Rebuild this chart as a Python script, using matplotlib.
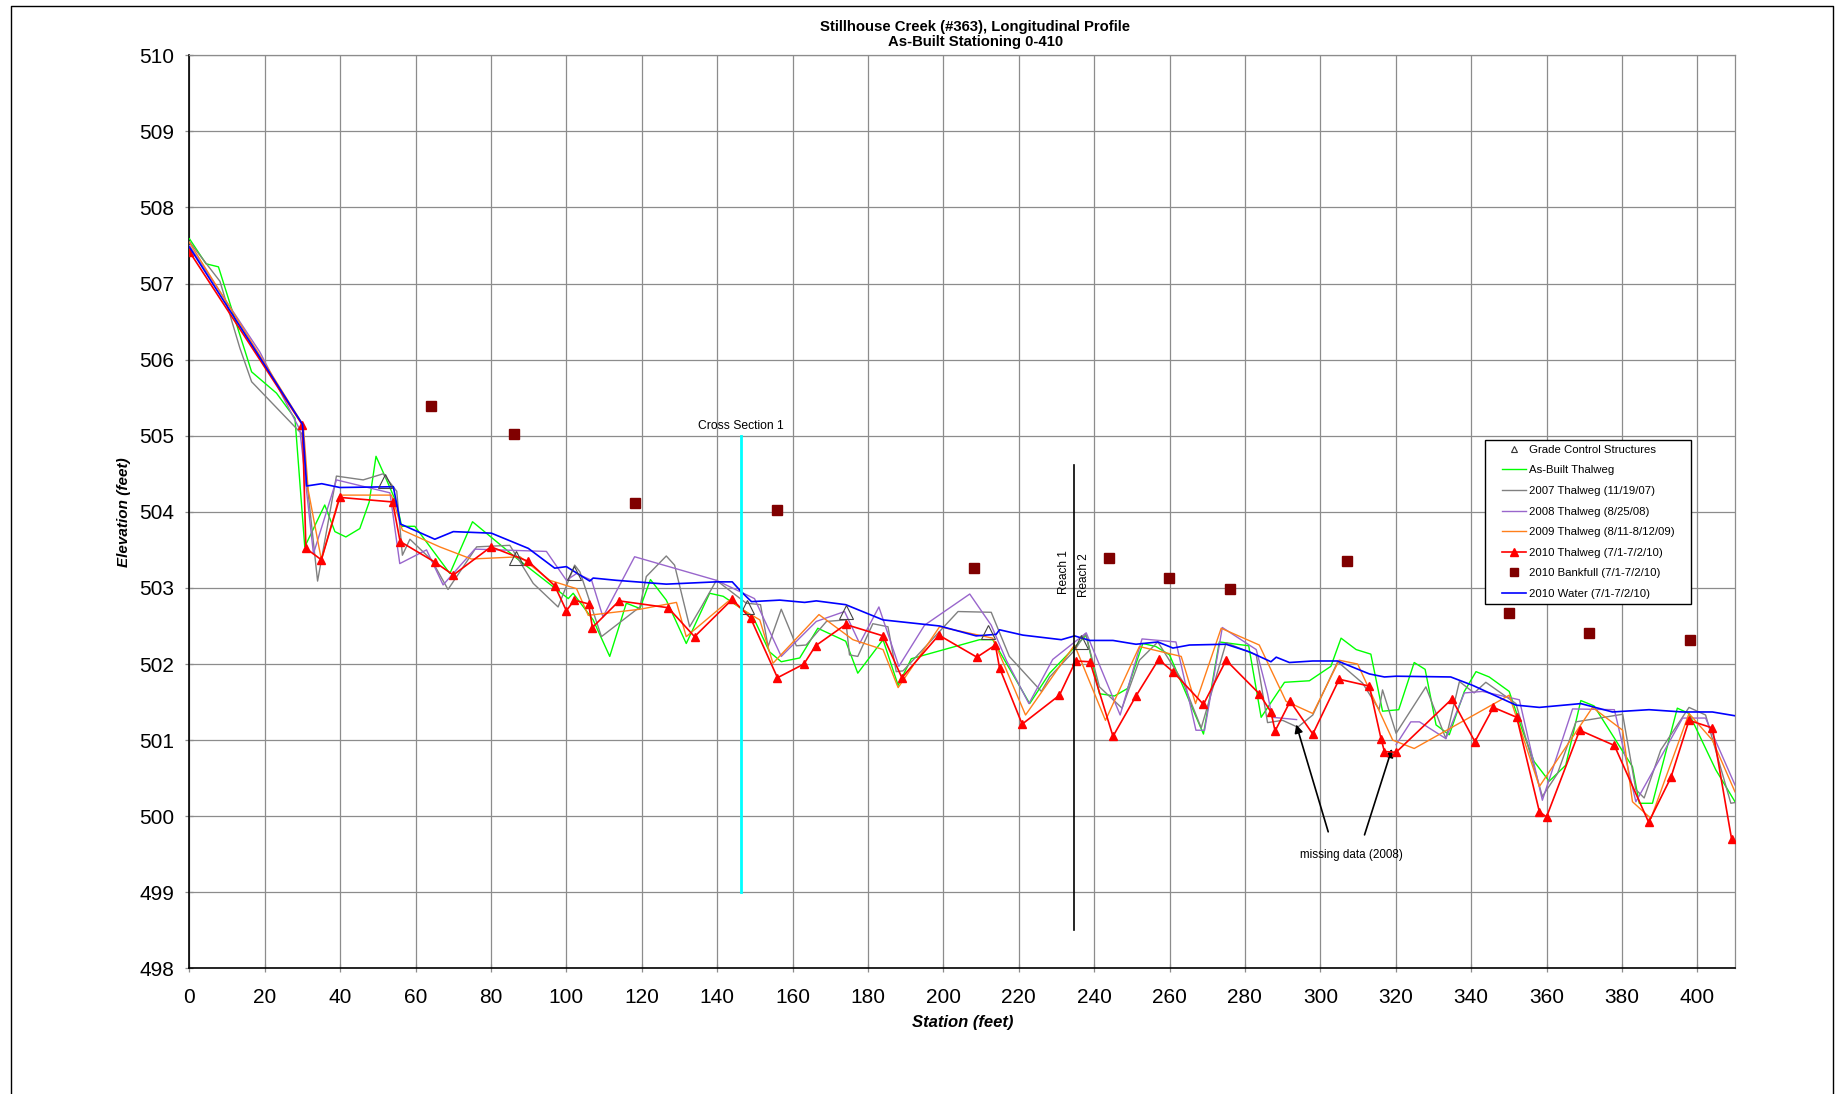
import numpy as np
import matplotlib
matplotlib.use("Agg")
import matplotlib.pyplot as plt
from matplotlib.lines import Line2D
from matplotlib.patches import Rectangle

plt.rcParams['font.family'] = ['Liberation Sans', 'DejaVu Sans']

# ---------------- data ----------------
asbuilt_x = [0, 4.4, 7.7, 12.4, 16.5, 23.1, 28.0, 30.6, 35.9, 38.6, 41.5, 45.2, 47.7, 49.5, 52.3, 55.0, 56.3, 59.8,
             69.1, 75.1, 86.8, 96.9, 100.5, 101.8, 107.1, 111.5, 115.9, 119.5, 122.3, 126.5, 131.8, 138.0, 141.6,
             146.4, 149.5, 153.9, 157.0, 161.9, 166.7, 174.1, 177.3, 184.0, 188.0, 191.5, 209.6, 213.1, 222.9, 228.2,
             237.9, 241.4, 245.4, 248.9, 252.9, 256.4, 260.0, 269.0, 273.2, 281.0, 284.3, 290.5, 297.1, 302.8, 305.5,
             309.5, 313.4, 316.5, 320.8, 324.9, 327.8, 330.7, 334.2, 338.2, 341.3, 344.8, 350.1, 353.6, 356.7, 360.7,
             365.1, 369.1, 372.6, 382.8, 384.6, 388.1, 394.7, 397.8, 404.9, 410.0]
asbuilt_y = [507.59, 507.26, 507.22, 506.48, 505.84, 505.56, 505.23, 503.54, 504.09, 503.74, 503.67, 503.78, 504.13,
             504.73, 504.42, 504.11, 503.81, 503.81, 503.19, 503.87, 503.39, 503.00, 502.86, 502.93, 502.58, 502.10,
             502.80, 502.73, 503.11, 502.84, 502.27, 502.93, 502.89, 502.73, 502.62, 502.16, 502.03, 502.08, 502.47,
             502.30, 501.88, 502.32, 501.72, 502.07, 502.32, 502.32, 501.48, 501.88, 502.38, 501.61, 501.58, 501.68,
             502.27, 502.23, 502.12, 501.08, 502.29, 502.24, 501.30, 501.76, 501.78, 501.97, 502.34, 502.19, 502.13,
             501.38, 501.40, 502.02, 501.93, 501.20, 501.07, 501.64, 501.90, 501.83, 501.64, 501.13, 500.72, 500.46,
             500.67, 501.52, 501.45, 500.65, 500.17, 500.17, 501.42, 501.35, 500.61, 500.19]

t2007_x = [0, 8.1, 13.4, 16.5, 28.9, 29.8, 34.0, 39.0, 46.1, 51.4, 55.0, 56.5, 58.5, 64.2, 68.6, 76.2, 85.0, 91.2,
           97.8, 102.2, 103.6, 109.3, 119.5, 121.2, 126.5, 128.7, 132.7, 135.8, 139.8, 147.7, 151.5, 153.5, 157.0,
           161.0, 163.6, 169.0, 174.1, 175.1, 177.3, 181.3, 185.3, 187.5, 189.3, 199.4, 203.9, 212.7, 217.5, 226.0,
           228.2, 234.8, 237.7, 241.4, 247.4, 252.0, 256.9, 263.5, 268.4, 275.0, 283.0, 286.0, 290.0, 294.0, 298.0,
           304.6, 311.2, 315.6, 316.5, 320.1, 328.0, 333.3, 336.9, 340.8, 343.9, 351.9, 358.9, 362.9, 367.8, 380.2,
           383.7, 385.9, 390.3, 397.8, 402.2, 408.9, 410.0]
t2007_y = [507.55, 507.03, 506.15, 505.71, 505.07, 505.03, 503.09, 504.47, 504.42, 504.50, 504.27, 503.43, 503.64,
           503.37, 502.98, 503.54, 503.56, 503.06, 502.75, 503.30, 503.21, 502.36, 502.75, 503.15, 503.42, 503.30,
           502.49, 502.75, 503.10, 502.80, 502.78, 502.23, 502.72, 502.24, 502.25, 502.56, 502.58, 502.12, 502.10,
           502.53, 502.49, 501.90, 501.91, 502.45, 502.69, 502.68, 502.10, 501.64, 501.83, 502.18, 502.40, 501.70,
           501.42, 502.05, 502.29, 501.77, 501.16, 502.28, 502.12, 501.23, 501.26, 501.17, 501.33, 502.03, 501.75,
           501.40, 501.66, 501.09, 501.70, 501.02, 501.77, 501.62, 501.76, 501.48, 500.26, 500.56, 501.24, 501.34,
           500.35, 500.24, 500.87, 501.43, 501.33, 500.17, 500.18]

t2008_x = [0, 18.7, 29.3, 32.9, 39.0, 53.2, 55.8, 62.9, 67.3, 75.7, 94.7, 100.0, 102.7, 106.7, 109.7, 118.1, 139.8,
           149.9, 157.0, 166.3, 173.8, 177.8, 182.9, 188.2, 195.0, 207.0, 212.7, 216.7, 222.7, 229.0, 237.9, 246.9,
           252.7, 261.7, 267.0, 269.3, 274.0, 283.0, 286.0, 287.2, 293.7, 306.0, 320.1, 324.0, 326.3, 333.3, 338.2,
           343.0, 352.8, 358.9, 366.9, 378.0, 383.7, 396.1, 402.2, 410.0]
t2008_y = [507.50, 506.10, 505.08, 503.45, 504.42, 504.25, 503.32, 503.50, 503.04, 503.51, 503.48, 503.10, 503.19,
           503.10, 502.62, 503.41, 503.10, 502.86, 502.10, 502.56, 502.69, 502.27, 502.75, 501.97, 502.51, 502.92,
           502.51, 502.05, 501.48, 502.06, 502.41, 501.33, 502.33, 502.29, 501.13, 501.13, 502.48, 502.19, 501.61,
           501.30, 501.27, np.nan, 500.94, 501.24, 501.24, 501.02, 501.62, 501.64, 501.53, 500.21, 501.41, 501.40,
           500.19, 501.29, 501.29, 500.41]

t2009_x = [0, 30.2, 31.5, 35.0, 39.9, 53.6, 56.5, 66.4, 74.8, 87.7, 95.6, 102.7, 105.8, 119.5, 129.2, 131.8, 143.3,
           146.9, 151.3, 154.8, 167.0, 176.0, 184.0, 188.0, 199.0, 213.1, 221.8, 234.8, 243.0, 252.0, 263.1, 266.9,
           273.7, 283.8, 290.9, 298.0, 305.0, 309.9, 319.2, 324.9, 350.1, 358.1, 372.2, 380.2, 382.8, 387.7, 397.8,
           404.0, 410.0]
t2009_y = [507.54, 505.14, 504.29, 503.37, 504.22, 504.22, 503.76, 503.54, 503.38, 503.41, 503.10, 502.99, 502.64,
           502.72, 502.81, 502.36, 502.84, 502.71, 502.58, 502.01, 502.65, 502.32, 502.19, 501.69, 502.49, 502.34,
           501.33, 502.25, 501.26, 502.23, 502.10, 501.48, 502.47, 502.25, 501.51, 501.35, 502.05, 502.00, 501.00,
           500.89, 501.59, 500.39, 501.43, 501.13, 500.19, 499.97, 501.35, 501.00, 500.32]

t2010_x = [0, 30.0, 30.9, 35.0, 39.9, 53.9, 55.9, 65.1, 70.0, 80.0, 89.9, 96.9, 100.0, 102.1, 105.9, 106.9, 114.0,
           127.0, 134.0, 144.0, 148.9, 156.0, 163.0, 166.1, 174.1, 184.0, 189.0, 198.8, 208.9, 213.8, 214.9, 220.9,
           230.8, 235.1, 238.9, 245.0, 251.1, 257.1, 260.9, 269.0, 275.0, 283.8, 286.9, 288.0, 292.0, 298.0, 305.0,
           313.0, 316.1, 317.0, 320.1, 334.9, 341.0, 345.9, 352.1, 358.1, 360.0, 368.8, 378.0, 387.1, 393.0, 397.8,
           404.0, 409.1]
t2010_y = [507.42, 505.14, 503.52, 503.37, 504.19, 504.13, 503.61, 503.34, 503.17, 503.54, 503.35, 503.03, 502.70,
           502.84, 502.79, 502.48, 502.83, 502.74, 502.36, 502.85, 502.60, 501.82, 502.00, 502.24, 502.52, 502.37,
           501.82, 502.38, 502.09, 502.25, 501.95, 501.21, 501.59, 502.04, 502.03, 501.05, 501.58, 502.06, 501.90,
           501.47, 502.05, 501.61, 501.37, 501.12, 501.51, 501.08, 501.80, 501.71, 501.02, 500.85, 500.84, 501.54,
           500.98, 501.43, 501.30, 500.06, 499.99, 501.13, 500.93, 499.92, 500.51, 501.26, 501.16, 499.70]

bankfull_x = [64.0, 86.1, 118.3, 156.0, 208.1, 244.0, 259.9, 276.1, 307.0, 350.1, 371.3, 398.1]
bankfull_y = [505.39, 505.02, 504.11, 504.02, 503.26, 503.40, 503.13, 502.98, 503.35, 502.67, 502.41, 502.31]

water_x = [0, 30.0, 31.1, 35.1, 39.9, 54.1, 56.0, 65.1, 70.0, 80.1, 89.9, 96.9, 100.0, 106.2, 107.1, 113.3, 126.5,
           139.8, 144.0, 146.4, 149.1, 156.6, 163.2, 166.3, 174.1, 184.0, 199.0, 208.7, 214.0, 214.9, 221.1, 231.3,
           234.8, 238.8, 245.0, 251.1, 256.9, 260.9, 265.3, 275.0, 281.2, 286.9, 288.3, 291.8, 298.0, 304.6, 313.0,
           317.0, 320.1, 334.6, 340.4, 351.9, 358.1, 369.1, 377.5, 387.2, 396.1, 404.0, 410.0]
water_y = [507.48, 505.15, 504.34, 504.37, 504.32, 504.33, 503.84, 503.64, 503.74, 503.72, 503.52, 503.26, 503.28,
           503.09, 503.13, 503.10, 503.05, 503.08, 503.08, 502.95, 502.82, 502.84, 502.81, 502.83, 502.78, 502.58,
           502.50, 502.37, 502.39, 502.45, 502.38, 502.32, 502.37, 502.31, 502.31, 502.26, 502.29, 502.21, 502.25,
           502.26, 502.16, 502.03, 502.09, 502.02, 502.04, 502.04, 501.87, 501.83, 501.84, 501.83, 501.72, 501.46,
           501.43, 501.48, 501.37, 501.40, 501.37, 501.37, 501.32]

grade_x = [51.9, 86.6, 102.1, 147.9, 174.1, 211.9, 236.6]
grade_y = [504.41, 503.39, 503.20, 502.75, 502.69, 502.42, 502.29]

xsec_station = 146.4
xsec_range = [499.0, 505.0]
reach_station = 234.6
reach_range = [498.5, 504.62]

x_ticks = list(range(0, 401, 20))
y_ticks = list(range(498, 511, 1))

# ---------------- figure ----------------
fig = plt.figure(figsize=(18.45, 10.94), dpi=100)
ax = fig.add_axes([0.10266, 0.11481, 0.83772, 0.83464])

grid_c = '#8c8c8c'
ax.set_xlim(0, 410)
ax.set_ylim(498, 510)
ax.set_xticks(x_ticks)
ax.set_yticks(y_ticks)
ax.grid(True, color=grid_c, lw=0.9)
ax.set_axisbelow(True)
for s in ['top', 'right']:
    ax.spines[s].set_color(grid_c)
    ax.spines[s].set_linewidth(0.9)
for s in ['left', 'bottom']:
    ax.spines[s].set_color('black')
    ax.spines[s].set_linewidth(1.2)
ax.tick_params(axis='both', direction='inout', length=6, width=0.9, color=grid_c, labelsize=15)
ax.tick_params(axis='x', pad=11)
ax.tick_params(axis='y', pad=8)

lw = 1.0
ax.plot(asbuilt_x, asbuilt_y, color='#00ff00', lw=lw, zorder=3)
ax.plot(t2007_x, t2007_y, color='#808080', lw=lw, zorder=3)
ax.plot(t2008_x, t2008_y, color='#9966cc', lw=lw, zorder=3)
ax.plot(t2009_x, t2009_y, color='#ff7f1a', lw=lw, zorder=3)
ax.plot(t2010_x, t2010_y, color='#ff0000', lw=1.2, marker='^', ms=6, zorder=4)
ax.plot(bankfull_x, bankfull_y, ls='none', marker='s', ms=7.5, color='#800000', zorder=4)
ax.plot(water_x, water_y, color='#0000ff', lw=1.2, zorder=5)
ax.plot(grade_x, grade_y, ls='none', marker='^', ms=10, mfc='none', mec='#444444', mew=0.8, zorder=6)

# cross section
ax.plot([xsec_station, xsec_station], xsec_range, color='#00ffff', lw=2.0, zorder=6)
ax.text(xsec_station, xsec_range[1] + 0.05, 'Cross Section 1', ha='center', va='bottom', fontsize=8.7)

# reach divide
ax.plot([reach_station, reach_station], reach_range, color='black', lw=1.2, zorder=6)
ax.text(reach_station - 1.0, 502.92, 'Reach 1', rotation=90, ha='right', va='bottom', fontsize=8.5)
ax.text(reach_station + 1.2, 502.88, 'Reach 2', rotation=90, ha='left', va='bottom', fontsize=8.5)

# missing data annotation
ax.annotate('', xy=(293.4, 501.24), xytext=(302.3, 499.76),
            arrowprops=dict(arrowstyle='-|>', color='black', lw=1.2, mutation_scale=12))
ax.annotate('', xy=(319.2, 500.92), xytext=(311.5, 499.72),
            arrowprops=dict(arrowstyle='-|>', color='black', lw=1.2, mutation_scale=12))
ax.text(308.2, 499.49, 'missing data (2008)', ha='center', va='center', fontsize=8.4)

ax.set_xlabel('Station (feet)', fontsize=12, fontweight='bold', fontstyle='italic', labelpad=6)
ax.set_ylabel('Elevation (feet)', fontsize=11, fontweight='bold', fontstyle='italic', labelpad=5.5)

fig.text(0.5287, 0.9688, 'Stillhouse Creek (#363), Longitudinal Profile\nAs-Built Stationing 0-410',
         ha='center', va='center', fontsize=10.7, fontweight='bold', linespacing=1.1)

# legend (frame drawn separately)
ax.add_patch(Rectangle((0.8383, 0.3995), 0.9715 - 0.8383, 0.5787 - 0.3995, transform=ax.transAxes,
                       facecolor='white', edgecolor='black', lw=1.0, zorder=9))
handles = [
    Line2D([], [], ls='none', marker='^', ms=4.5, mfc='none', mec='#333333', mew=0.8),
    Line2D([], [], color='#00ff00', lw=lw),
    Line2D([], [], color='#808080', lw=lw),
    Line2D([], [], color='#9966cc', lw=lw),
    Line2D([], [], color='#ff7f1a', lw=lw),
    Line2D([], [], color='#ff0000', lw=1.2, marker='^', ms=6),
    Line2D([], [], ls='none', marker='s', ms=5.5, color='#800000'),
    Line2D([], [], color='#0000ff', lw=1.2),
]
labels = ['Grade Control Structures', 'As-Built Thalweg', '2007 Thalweg (11/19/07)', '2008 Thalweg (8/25/08)',
          '2009 Thalweg (8/11-8/12/09)', '2010 Thalweg (7/1-7/2/10)', '2010 Bankfull (7/1-7/2/10)',
          '2010 Water (7/1-7/2/10)']
leg = ax.legend(handles, labels, loc='upper left', bbox_to_anchor=(0.849, 0.5735), fontsize=8.2,
                frameon=False, handlelength=2.1, labelspacing=0.93, borderpad=0, handletextpad=0.3,
                borderaxespad=0)
leg.set_zorder(10)

# outer chart border
fig.add_artist(Line2D([11/1845, 11/1845, 1833/1845, 1833/1845],
                      [0, 1 - 6/1094, 1 - 6/1094, 0], color='black', lw=1.0, transform=fig.transFigure))

fig.savefig('out.png', dpi=100)
